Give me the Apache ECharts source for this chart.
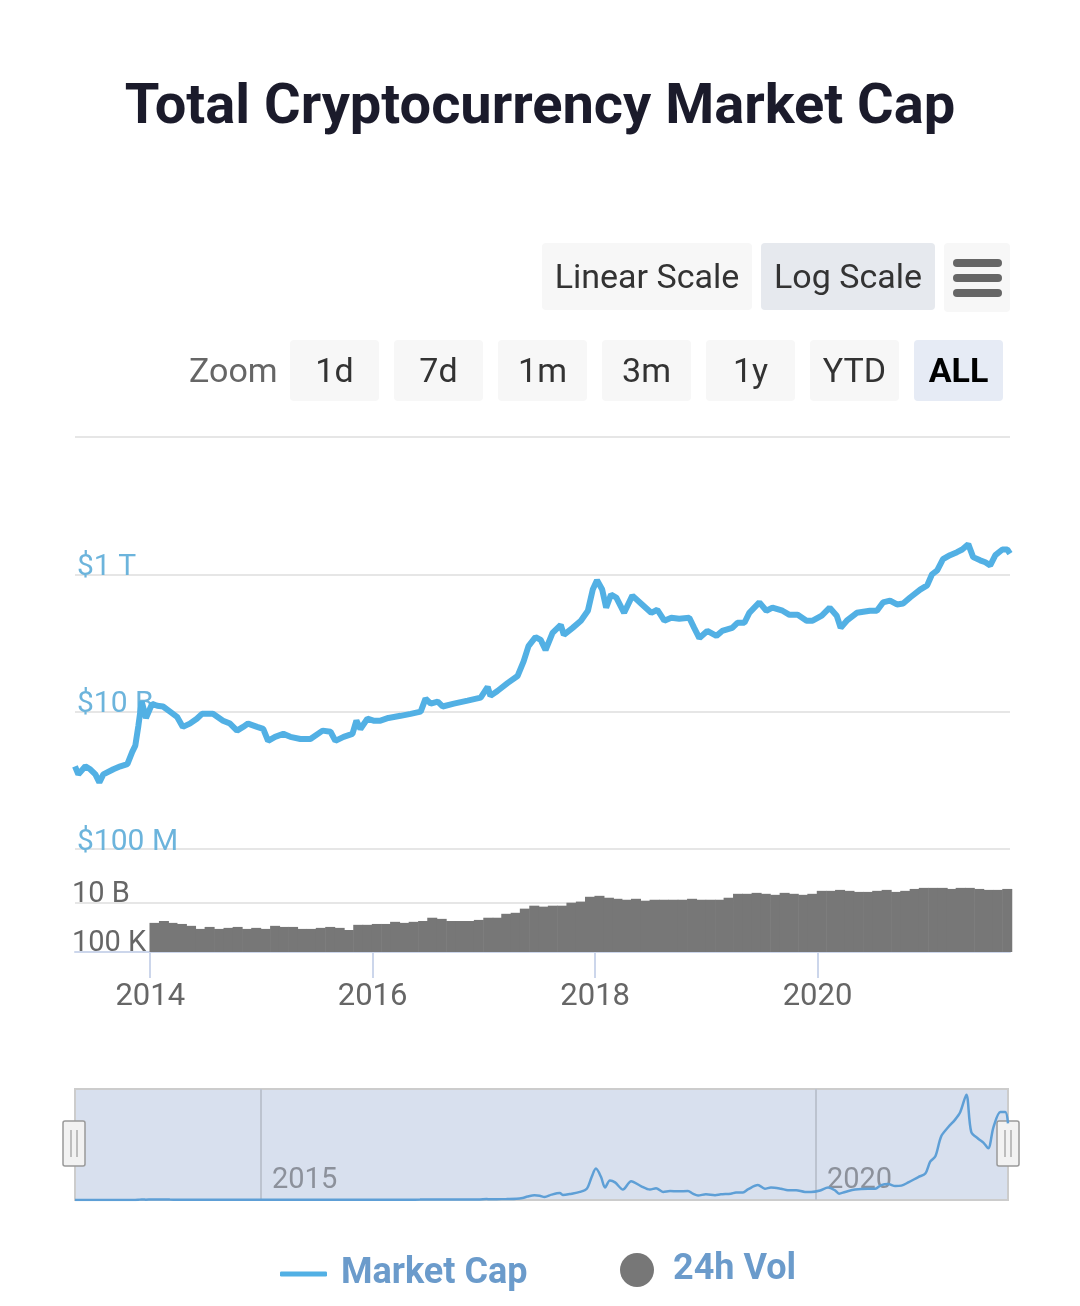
<!DOCTYPE html>
<html><head><meta charset="utf-8">
<script src="https://cdn.jsdelivr.net/npm/echarts@6/dist/echarts.min.js"></script>
<style>html,body{margin:0;padding:0;background:#fff;}#c{width:1080px;height:1306px;}</style>
</head><body><div id="c"></div><script>
// ---- data ----
const capDates = ['2013-04-29','2013-05-10','2013-06-02','2013-06-18','2013-07-05','2013-07-18','2013-07-31','2013-09-02','2013-09-25','2013-10-18','2013-11-03','2013-11-13','2013-11-23','2013-12-04','2013-12-10','2013-12-18',
'2014-01-07','2014-01-24','2014-02-12','2014-03-07','2014-03-30','2014-04-18','2014-05-11','2014-06-03','2014-06-20','2014-07-26','2014-08-28','2014-09-20','2014-10-13','2014-11-02','2014-11-18','2014-12-18',
'2015-01-07','2015-01-23','2015-02-15','2015-03-14','2015-04-06','2015-05-09','2015-06-11','2015-07-21','2015-08-16','2015-09-01','2015-09-28','2015-10-27','2015-11-09','2015-11-22','2015-12-15',
'2016-01-04','2016-01-27','2016-02-22','2016-04-02','2016-05-05','2016-06-07','2016-06-23','2016-07-10','2016-08-02','2016-08-18','2016-09-24','2016-11-08','2016-12-21',
'2017-01-13','2017-01-22','2017-02-14','2017-03-19','2017-04-21','2017-05-11','2017-05-27','2017-06-19','2017-07-06','2017-07-22','2017-08-14','2017-09-10','2017-09-20','2017-10-19','2017-11-15','2017-12-08','2017-12-24',
'2018-01-07','2018-01-24','2018-02-06','2018-02-22','2018-03-11','2018-04-06','2018-05-03','2018-06-04','2018-07-04','2018-07-24','2018-08-16','2018-09-08','2018-10-04','2018-11-06','2018-11-22','2018-12-09',
'2019-01-04','2019-02-03','2019-02-22','2019-03-27','2019-04-13','2019-05-06','2019-05-22','2019-06-24','2019-07-17','2019-08-06','2019-09-08','2019-10-01','2019-10-28','2019-11-26','2019-12-16',
'2020-01-15','2020-02-10','2020-03-04','2020-03-17','2020-04-06','2020-05-09','2020-06-21','2020-07-14','2020-08-03','2020-08-26','2020-09-18','2020-10-08','2020-10-31','2020-12-03','2020-12-26',
'2021-01-11','2021-01-28','2021-02-16','2021-03-11','2021-04-03','2021-04-20','2021-05-10','2021-05-26','2021-06-18','2021-07-05','2021-07-21','2021-08-07','2021-08-30','2021-09-15','2021-09-24'];
const capBillions = [1.6,1.22,1.6,1.45,1.22,0.93,1.22,1.45,1.6,1.72,2.6,3.2,6.2,14,13.5,8.1,
13,12.2,11.9,10,8.4,6,6.7,7.9,9.3,9.3,7.4,6.7,5.3,6,6.7,6,
5.6,3.75,4.3,4.75,4.3,4.0,4.0,5.3,5.1,3.75,4.3,4.75,7.4,5.6,7.9,
7.4,7.4,8.1,8.7,9.3,10,15.5,13.1,14,11.9,13.1,14.5,16,
23,17,20,26,33,54,90,122,111,79,140,184,131,166,211,295,600,
820,600,327,508,460,275,490,364,275,305,211,233,226,233,166,118,
150,127,150,166,197,197,275,390,295,327,295,257,257,211,211,
250,327,250,166,211,275,295,295,390,415,364,375,460,600,690,
1000,1140,1660,1900,2100,2300,2750,1780,1600,1500,1350,1900,2300,2300,2000];
// monthly 24h volume, Jan 2014 .. Sep 2021 (millions USD)
const volFirstYear = 2014;
const volMillions = [
90,140,90,70,45,22,35,22,28,35,22,28,
22,45,35,35,22,22,28,35,28,17,57,57,
70,70,115,90,115,140,300,230,140,140,140,180,
300,300,750,950,2500,5000,4000,5000,5000,10000,13000,40000,
50000,32000,25000,20000,25000,16000,20000,20000,20000,20000,25000,20000,
20000,20000,32000,80000,80000,100000,80000,63000,100000,80000,63000,80000,
160000,160000,200000,160000,125000,125000,160000,200000,125000,160000,250000,320000,
320000,320000,250000,320000,320000,250000,200000,200000,250000];
const mainYearTicks = ['2014-01-01','2016-01-01','2018-01-01','2020-01-01'];
const navYearTicks = ['2015-01-01','2020-01-01'];
const capTickValues = [1e8,1e10,1e12,1e14];
const capTickLabels = {8:'$100 M',10:'$10 B',12:'$1 T'};
const volTickValues = [1e5,1e10];
const volTickLabels = {5:'100 K',10:'10 B'};
const scaleButtons = ['Linear Scale','Log Scale'];
const zoomButtons = ['1d','7d','1m','3m','1y','YTD','ALL'];

// ---- build ----
const FONT = 'Roboto';
const ts = s => { const p = s.split('-'); return new Date(+p[0], +p[1]-1, +p[2]).getTime(); };
const capData = capDates.map((d,i)=>[ts(d), capBillions[i]*1e9]);
const volData = volMillions.map((v,i)=>{
  const y = volFirstYear + Math.floor(i/12), m = i%12+1;
  return [new Date(y, m-1, 15).getTime(), v*1e6];
});
const mainTicksTs = mainYearTicks.map(ts);
const navTicksTs = navYearTicks.map(ts);
const yearFmt = v => String(new Date(v + 86400000).getFullYear());
const xMin = ts('2013-04-29'), xMax = ts('2021-09-24');

const g = [];
// scale buttons
const sbX = [542, 761], sbW = [210, 174], sbFill = ['#f7f7f7', '#e6e9ee'];
scaleButtons.forEach((t,i)=>{
  g.push({type:'rect', shape:{x:sbX[i], y:243, width:sbW[i], height:67, r:4}, style:{fill:sbFill[i]}});
  g.push({type:'text', x:sbX[i]+sbW[i]/2, y:279, style:{text:t, fill:'#333333', font:'34px Roboto', align:'center', verticalAlign:'middle'}});
});
// hamburger menu
g.push({type:'rect', shape:{x:944, y:243, width:66, height:69, r:4}, style:{fill:'#f7f7f7'}});
[263,278,293].forEach(cy=>g.push({type:'rect', shape:{x:953, y:cy-4, width:49, height:8, r:4}, style:{fill:'#666666'}}));
// zoom row
g.push({type:'text', x:189, y:373, style:{text:'Zoom', fill:'#666666', font:'34px Roboto', align:'left', verticalAlign:'middle'}});
zoomButtons.forEach((t,i)=>{
  const x = 290 + i*104, sel = t === 'ALL';
  g.push({type:'rect', shape:{x:x, y:340, width:89, height:61, r:4}, style:{fill: sel ? '#e6ebf5' : '#f7f7f7'}});
  g.push({type:'text', x:x+44.5, y:373, style:{text:t, fill: sel ? '#000000' : '#333333', font:(sel?'bold ':'')+'34px Roboto', align:'center', verticalAlign:'middle'}});
});
// navigator handles
[74, 1008].forEach(cx=>{
  g.push({type:'rect', shape:{x:cx-11, y:1121, width:22, height:45, r:2}, style:{fill:'#f2f2f2', stroke:'#999999', lineWidth:1.5}});
  g.push({type:'line', shape:{x1:cx-3, y1:1130, x2:cx-3, y2:1157}, style:{stroke:'#999999', lineWidth:1.2}});
  g.push({type:'line', shape:{x1:cx+3, y1:1130, x2:cx+3, y2:1157}, style:{stroke:'#999999', lineWidth:1.2}});
});

const option = {
  animation: false,
  backgroundColor: '#ffffff',
  title: {text:'Total Cryptocurrency Market Cap', left:'center', top:76,
    textStyle:{fontSize:56, fontWeight:'bold', color:'#1b1b2b', fontFamily:FONT}},
  legend: [
    {data:['Market Cap'], left:280, top:1256, padding:0, icon:'roundRect', itemWidth:47, itemHeight:5, itemGap:0, selectedMode:false,
      textStyle:{fontSize:36, fontWeight:'bold', color:'#6b9bcb', fontFamily:FONT, padding:[0,0,0,9]}},
    {data:['24h Vol'], left:620, top:1252, padding:0, icon:'circle', itemWidth:34, itemHeight:34, itemGap:0, selectedMode:false,
      textStyle:{fontSize:36, fontWeight:'bold', color:'#6b9bcb', fontFamily:FONT, padding:[0,0,0,14]}}
  ],
  grid: [
    {left:75, right:70, top:437, height:412, outerBoundsMode:'none'},
    {left:75, right:70, top:883, height:69, outerBoundsMode:'none'},
    {left:75, right:72, top:1089, height:111, outerBoundsMode:'none', show:true, backgroundColor:'#d8e0ee', borderColor:'#cccccc', borderWidth:2}
  ],
  xAxis: [
    {type:'value', gridIndex:0, min:xMin, max:xMax, show:false},
    {type:'value', gridIndex:1, min:xMin, max:xMax,
      axisLine:{show:true, lineStyle:{color:'#ccd6eb', width:2}},
      axisTick:{show:true, customValues:mainTicksTs, length:26, lineStyle:{color:'#ccd6eb', width:2}},
      axisLabel:{customValues:mainTicksTs, formatter:yearFmt, fontSize:31, color:'#666666', fontFamily:FONT, margin:30},
      splitLine:{show:false}},
    {type:'value', gridIndex:2, min:xMin, max:xMax,
      axisLine:{show:false},
      axisTick:{show:true, customValues:navTicksTs, inside:true, length:111, lineStyle:{color:'#bcc3cf', width:2}},
      axisLabel:{customValues:navTicksTs, inside:true, align:'left', padding:[0,0,0,11], formatter:yearFmt, fontSize:29, color:'#8c919b', fontFamily:FONT, margin:5},
      splitLine:{show:false}}
  ],
  yAxis: [
    {type:'log', gridIndex:0, logBase:100, min:1e8, max:1e14,
      axisLine:{show:false}, axisTick:{show:false, customValues:capTickValues},
      axisLabel:{customValues:capTickValues, inside:true, margin:2, verticalAlign:'bottom', lineHeight:14,
        formatter:v=>capTickLabels[Math.round(Math.log10(v))]||'', fontSize:30, color:'#6cb4dc', fontFamily:FONT},
      splitLine:{show:true, lineStyle:{color:'#e6e6e6', width:2}}},
    {type:'log', gridIndex:1, min:1e5, max:1e12, startValue:1e5,
      axisLine:{show:false}, axisTick:{show:false, customValues:volTickValues},
      axisLabel:{customValues:volTickValues, inside:true, margin:-3, verticalAlign:'bottom', lineHeight:16,
        formatter:v=>volTickLabels[Math.round(Math.log10(v))]||'', fontSize:29, color:'#666666', fontFamily:FONT},
      splitLine:{show:true, lineStyle:{color:'#e6e6e6', width:2}}},
    {type:'value', gridIndex:2, min:0, max:2.9e12, show:false}
  ],
  series: [
    {name:'Market Cap', type:'line', xAxisIndex:0, yAxisIndex:0, data:capData, showSymbol:false, z:3,
      lineStyle:{width:6, color:'#52b0e4'}, itemStyle:{color:'#52b0e4'}},
    {name:'24h Vol', type:'bar', xAxisIndex:1, yAxisIndex:1, data:volData, barWidth:10, z:2,
      itemStyle:{color:'#777777'}},
    {name:'Navigator', type:'line', xAxisIndex:2, yAxisIndex:2, data:capData, showSymbol:false, silent:true, smooth:0.3,
      lineStyle:{width:2.5, color:'#5e9fd6'}, itemStyle:{color:'#5e9fd6'}}
  ],
  graphic: g
};
const chart = echarts.init(document.getElementById('c'), null, {renderer:'canvas'});
chart.setOption(option);
</script></body></html>
